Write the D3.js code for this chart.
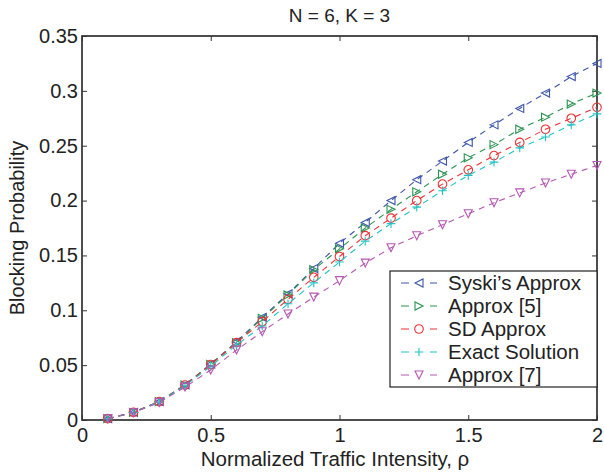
<!DOCTYPE html>
<html>
<head>
<meta charset="utf-8">
<style>
  body { margin: 0; background: #fff; }
  svg { font-family: "Liberation Sans", Arial, Helvetica, sans-serif; }
</style>
</head>
<body>
<svg width="604" height="474"></svg>
<script src="https://d3js.org/d3.v7.min.js"></script>
<script>

var rho = [0.1, 0.2, 0.3, 0.4, 0.5, 0.6, 0.7, 0.8, 0.9, 1.0,
           1.1, 1.2, 1.3, 1.4, 1.5, 1.6, 1.7, 1.8, 1.9, 2.0];

var syski   = [0.0012, 0.0070, 0.0168, 0.0320, 0.0510, 0.0714, 0.0936, 0.1150, 0.1380, 0.1610,
               0.1800, 0.2000, 0.2190, 0.2360, 0.2530, 0.2690, 0.2840, 0.2980, 0.3130, 0.3250];
var approx5 = [0.0012, 0.0070, 0.0168, 0.0319, 0.0508, 0.0705, 0.0927, 0.1140, 0.1370, 0.1560,
               0.1750, 0.1920, 0.2080, 0.2240, 0.2390, 0.2510, 0.2650, 0.2760, 0.2880, 0.2980];
var sdApprox = [0.0012, 0.0070, 0.0167, 0.0318, 0.0505, 0.0705, 0.0896, 0.1100, 0.1300, 0.1490,
               0.1680, 0.1840, 0.2000, 0.2150, 0.2280, 0.2410, 0.2530, 0.2650, 0.2750, 0.2850];
var exact   = [0.0012, 0.0069, 0.0165, 0.0312, 0.0490, 0.0684, 0.0857, 0.1060, 0.1250, 0.1440,
               0.1630, 0.1790, 0.1940, 0.2090, 0.2230, 0.2350, 0.2480, 0.2580, 0.2690, 0.2790];
var approx7 = [0.0011, 0.0066, 0.0160, 0.0300, 0.0456, 0.0638, 0.0805, 0.0966, 0.1120, 0.1270,
               0.1430, 0.1570, 0.1680, 0.1780, 0.1880, 0.1980, 0.2070, 0.2160, 0.2240, 0.2320];

var seriesNames = ["Syski\u2019s Approx", "Approx [5]", "SD Approx", "Exact Solution", "Approx [7]"];
var seriesColors = ["#3d55aa", "#2a9350", "#ee3035", "#1fc3c6", "#b557b3"];
var seriesMarkers = ["left", "right", "circle", "plus", "down"];
var seriesValues = [syski, approx5, sdApprox, exact, approx7];

var xTicks = [0, 0.5, 1, 1.5, 2];
var yTicks = [0, 0.05, 0.1, 0.15, 0.2, 0.25, 0.3, 0.35];

var svg = d3.select("svg");
var padL = 82, padR = 597, padT = 36, padB = 420;

var x = d3.scaleLinear().domain([0, 2]).range([padL, padR]);
var y = d3.scaleLinear().domain([0, 0.35]).range([padB, padT]);

// axes box
svg.append("rect")
    .attr("x", padL).attr("y", padT)
    .attr("width", padR - padL).attr("height", padB - padT)
    .attr("fill", "none").attr("stroke", "#222").attr("stroke-width", 1.6);

var tickFmt = function(d) { return d === 0 ? "0" : String(+d.toFixed(2)); };

var xAxis = svg.append("g").attr("transform", "translate(0," + padB + ")")
    .call(d3.axisBottom(x).tickValues(xTicks).tickSizeInner(-5).tickSizeOuter(0).tickPadding(8).tickFormat(tickFmt));
svg.append("g").attr("transform", "translate(0," + padT + ")")
    .call(d3.axisTop(x).tickValues(xTicks).tickSizeInner(-5).tickSizeOuter(0).tickFormat(""));
svg.append("g").attr("transform", "translate(" + padL + ",0)")
    .call(d3.axisLeft(y).tickValues(yTicks).tickSizeInner(-5).tickSizeOuter(0).tickPadding(4).tickFormat(tickFmt));
svg.append("g").attr("transform", "translate(" + padR + ",0)")
    .call(d3.axisRight(y).tickValues(yTicks).tickSizeInner(-5).tickSizeOuter(0).tickFormat(""));

svg.selectAll(".domain").remove();
svg.selectAll(".tick line").attr("stroke", "#333").attr("stroke-width", 1);
svg.selectAll(".tick text").attr("font-size", 20).attr("fill", "#222")
    .attr("font-family", "Liberation Sans, Arial, sans-serif");
xAxis.selectAll(".tick text").attr("dy", "0.72em");

// titles
svg.append("text").attr("x", (padL + padR) / 2).attr("y", 22)
    .attr("text-anchor", "middle").attr("font-size", 19).attr("fill", "#222")
    .text("N = 6, K = 3");
svg.append("text").attr("x", 335).attr("y", 466)
    .attr("text-anchor", "middle").attr("font-size", 20.5).attr("fill", "#222")
    .text("Normalized Traffic Intensity, \u03c1");
svg.append("text")
    .attr("transform", "translate(24," + ((padT + padB) / 2) + ") rotate(-90)")
    .attr("text-anchor", "middle").attr("font-size", 20).attr("fill", "#222")
    .text("Blocking Probability");

function drawMarker(g, type, color) {
  var s = 4;
  if (type === "circle") {
    g.append("circle").attr("r", 4.3).attr("fill", "none").attr("stroke", color).attr("stroke-width", 1.1);
  } else if (type === "plus") {
    g.append("path").attr("d", "M-4.3,0H4.3M0,-4.3V4.3").attr("stroke", color).attr("stroke-width", 1.1);
  } else {
    var pts;
    if (type === "left") pts = [[-s, 0], [s, -s], [s, s]];
    if (type === "right") pts = [[s, 0], [-s, -s], [-s, s]];
    if (type === "down") pts = [[0, s], [-s, -s], [s, -s]];
    g.append("path").attr("d", d3.line()(pts) + "Z")
        .attr("fill", "none").attr("stroke", color).attr("stroke-width", 1.1);
  }
}

var line = d3.line().x(function(d, i) { return x(rho[i]); }).y(function(d) { return y(d); });

seriesValues.forEach(function(vals, k) {
  var color = seriesColors[k];
  svg.append("path").datum(vals)
      .attr("d", line)
      .attr("fill", "none").attr("stroke", color).attr("stroke-width", 1.1)
      .attr("stroke-dasharray", "6,5");
  vals.forEach(function(v, i) {
    var g = svg.append("g").attr("transform", "translate(" + x(rho[i]) + "," + y(v) + ")");
    drawMarker(g, seriesMarkers[k], color);
  });
});

// legend
var lg = svg.append("g");
lg.append("rect").attr("x", 390).attr("y", 271).attr("width", 207).attr("height", 116)
    .attr("fill", "#fff").attr("stroke", "#222").attr("stroke-width", 1.2);
seriesNames.forEach(function(name, k) {
  var cy = 283 + k * 23;
  var color = seriesColors[k];
  lg.append("path").attr("d", "M401," + cy + "H409M430," + cy + "H437")
      .attr("stroke", color).attr("stroke-width", 1.1);
  drawMarker(lg.append("g").attr("transform", "translate(419," + cy + ")"), seriesMarkers[k], color);
  lg.append("text").attr("x", 448).attr("y", cy).attr("dy", "0.36em")
      .attr("font-size", 20.5).attr("fill", "#222").text(name);
});

</script>
</body>
</html>
